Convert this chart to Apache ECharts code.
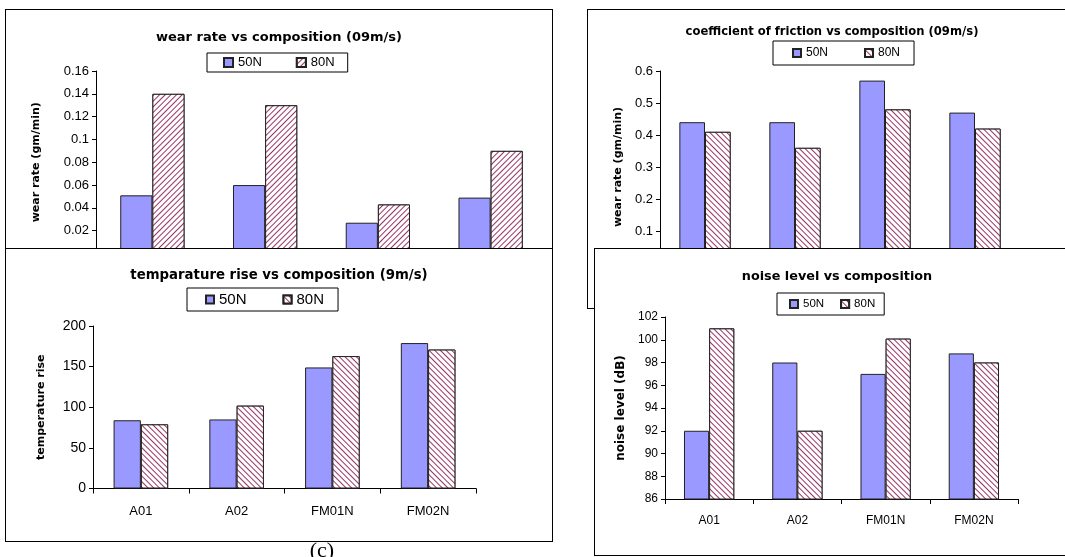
<!DOCTYPE html>
<html><head><meta charset="utf-8">
<script src="https://cdn.jsdelivr.net/npm/echarts@6/dist/echarts.min.js"></script>
<style>
html,body{margin:0;padding:0;width:1065px;height:557px;overflow:hidden;background:#fff;}
.panel{position:absolute;background:#fff;border:1px solid #000;box-sizing:border-box;}
#cap{position:absolute;left:297px;top:539px;width:50px;text-align:center;font-family:'Liberation Serif','Times New Roman',serif;font-size:22px;line-height:22px;color:#000;}
</style></head><body>
<div id="p1" class="panel" style="left:5px;top:9px;width:548px;height:320px"></div>
<div id="p2" class="panel" style="left:587px;top:9px;width:490px;height:300px"></div>
<div id="p3" class="panel" style="left:5px;top:248px;width:548px;height:294px"></div>
<div id="cap">(c)</div>
<div id="p4" class="panel" style="left:594px;top:248px;width:486px;height:308px"></div>
<script>
// ---- data ----
const categories = ['A01', 'A02', 'FM01N', 'FM02N'];
const seriesNames = ['50N', '80N'];
const wear50 = [0.051, 0.06, 0.027, 0.049];
const wear80 = [0.14, 0.13, 0.043, 0.09];
const cof50 = [0.44, 0.44, 0.57, 0.47];
const cof80 = [0.41, 0.36, 0.48, 0.42];
const temp50 = [84, 85, 149, 179];
const temp80 = [79, 102, 163, 171];
const noise50 = [92, 98, 97, 98.8];
const noise80 = [101, 92, 100.1, 98];
const titles = ['wear rate vs composition (09m/s)', 'coefficient of friction vs composition (09m/s)',
  'temparature rise vs composition (9m/s)', 'noise level vs composition'];
const yNames = ['wear rate (gm/min)', 'wear rate (gm/min)', 'temperature rise', 'noise level (dB)'];

const FONT = "'Liberation Sans', Arial, sans-serif";
const BOLD = "'DejaVu Sans', Tahoma, sans-serif";

function hatchDecal(dir) {
  return { symbol: 'rect', symbolSize: 1, color: '#993366', backgroundColor: '#ffffff',
    dashArrayX: [1, 0], dashArrayY: [1, 3], rotation: dir * Math.PI / 4 };
}

function makeOption(p) {
  return {
    animation: false,
    textStyle: { fontFamily: FONT },
    title: { text: p.title, left: 'center', top: p.titleTop, padding: 0,
      textStyle: { fontFamily: BOLD, fontWeight: 'bold', fontSize: p.titleSize, color: '#000' } },
    legend: { data: seriesNames, left: p.legLeft, top: p.legTop, padding: p.legPad, itemGap: p.legGap,
      itemWidth: p.icon, itemHeight: p.icon, borderColor: '#000', borderWidth: 1, borderRadius: 0, icon: 'rect',
      textStyle: { fontFamily: FONT, fontSize: p.legSize, color: '#000' } },
    grid: { left: p.gl, top: p.gt, width: p.gw, height: p.gh },
    xAxis: { type: 'category', data: categories,
      axisLine: { lineStyle: { color: '#000', width: 1 } },
      axisTick: { show: true, length: 5, lineStyle: { color: '#000' } },
      axisLabel: { color: '#000', fontSize: p.xSize, margin: p.xMargin, fontFamily: FONT } },
    yAxis: { type: 'value', min: p.min, max: p.max, interval: p.interval,
      name: p.yName, nameLocation: 'middle', nameRotate: 90, nameGap: p.nameGap,
      nameTextStyle: { fontFamily: BOLD, fontWeight: 'bold', fontSize: p.nameSize, color: '#000' },
      axisLine: { show: true, lineStyle: { color: '#000' } },
      axisTick: { show: true, length: 4, lineStyle: { color: '#000' } },
      splitLine: { show: false },
      axisLabel: { color: '#000', fontSize: p.ySize, margin: 7, fontFamily: FONT } },
    series: [
      { name: '50N', type: 'bar', data: p.v50, barGap: '0%', barCategoryGap: '43%',
        itemStyle: { color: '#9999FF', borderColor: '#222', borderWidth: 1 } },
      { name: '80N', type: 'bar', data: p.v80, barGap: '0%', barCategoryGap: '43%',
        itemStyle: { color: '#ffffff', borderColor: '#222', borderWidth: 1, decal: hatchDecal(p.dir) } }
    ]
  };
}

const panels = [
  { id: 'p1', title: titles[0], titleTop: 21, titleSize: 13, legLeft: 201, legTop: 43, legPad: [3, 13, 3, 16], legGap: 34, icon: 9, legSize: 13,
    gl: 90, gt: 61, gw: 451, gh: 182.5, xSize: 13, xMargin: 14, min: 0, max: 0.16, interval: 0.02,
    yName: yNames[0], nameGap: 54, nameSize: 11, ySize: 13, v50: wear50, v80: wear80, dir: -1 },
  { id: 'p2', title: titles[1], titleTop: 16, titleSize: 11.6, legLeft: 185, legTop: 31, legPad: [6, 14, 6, 19], legGap: 36, icon: 8, legSize: 12,
    gl: 72, gt: 61, gw: 360, gh: 192, xSize: 13, xMargin: 14, min: 0, max: 0.6, interval: 0.1,
    yName: yNames[1], nameGap: 36, nameSize: 11, ySize: 13, v50: cof50, v80: cof80, dir: 1 },
  { id: 'p3', title: titles[2], titleTop: 20, titleSize: 13.3, legLeft: 181, legTop: 39, legPad: [4, 14, 4, 18], legGap: 36, icon: 8, legSize: 15,
    gl: 87, gt: 77, gw: 383, gh: 162.5, xSize: 13, xMargin: 16, min: 0, max: 200, interval: 50,
    yName: yNames[2], nameGap: 46, nameSize: 11, ySize: 14, v50: temp50, v80: temp80, dir: 1 },
  { id: 'p4', title: titles[3], titleTop: 21, titleSize: 12.8, legLeft: 182, legTop: 44, legPad: [5, 9, 5, 12], legGap: 16, icon: 8, legSize: 11.5,
    gl: 70, gt: 68, gw: 353, gh: 182, xSize: 12, xMargin: 16, min: 86, max: 102, interval: 2,
    yName: yNames[3], nameGap: 35, nameSize: 12, ySize: 12, v50: noise50, v80: noise80, dir: 1 }
];

panels.forEach(function (p) {
  const chart = echarts.init(document.getElementById(p.id), null, { renderer: 'canvas' });
  chart.setOption(makeOption(p));
});
</script>
</body></html>
